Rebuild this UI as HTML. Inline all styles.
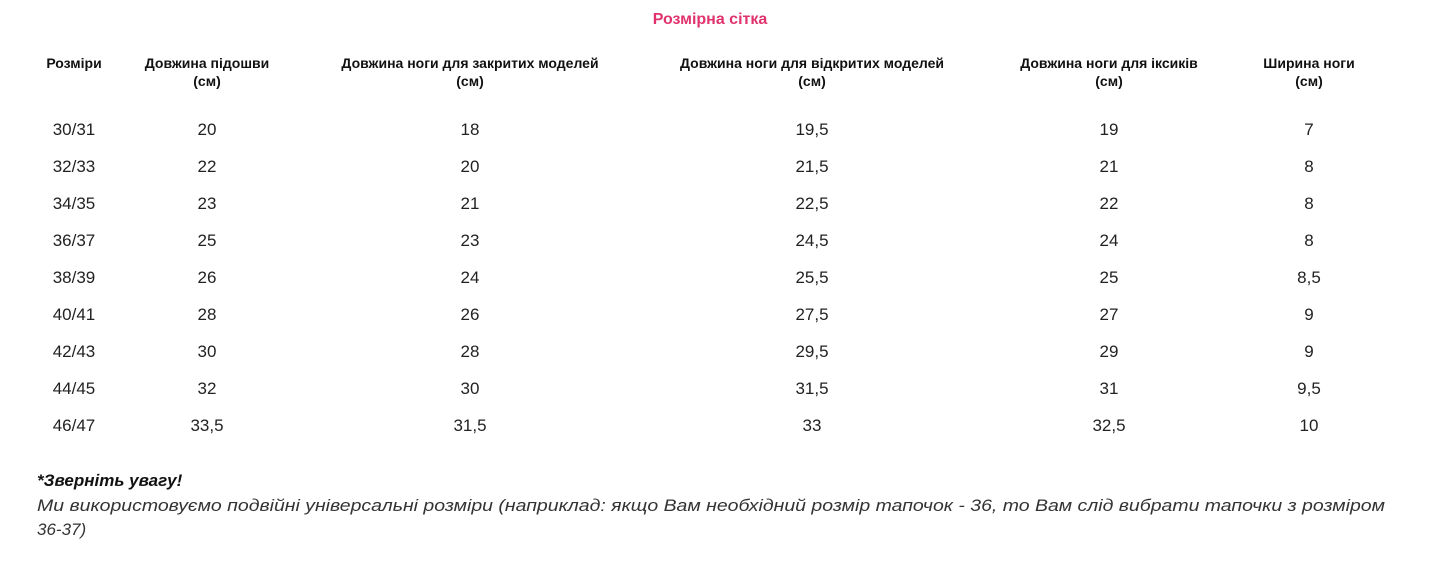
<!DOCTYPE html>
<html><head><meta charset="utf-8"><style>
html,body{margin:0;padding:0;background:#fff;width:1441px;height:563px;overflow:hidden}
svg text{font-family:"Liberation Sans",sans-serif}
</style></head><body>
<svg width="1441" height="563" viewBox="0 0 1441 563">
<text x="710" y="24" text-anchor="middle" font-size="16" font-weight="bold" fill="#e0336d">Розмірна сітка</text>
<g id="hdr" font-size="14" font-weight="bold" fill="#111" text-anchor="middle"></g>
<g id="body" font-size="17" fill="#222" text-anchor="middle"></g>
<text x="37" y="486" font-size="17" font-weight="bold" font-style="italic" fill="#111">*Зверніть увагу!</text>
<text x="37" y="511" font-size="17" font-style="italic" fill="#333" textLength="1348" lengthAdjust="spacingAndGlyphs">Ми використовуємо подвійні універсальні розміри (наприклад: якщо Вам необхідний розмір тапочок - 36, то Вам слід вибрати тапочки з розміром</text>
<text x="37" y="535" font-size="17" font-style="italic" fill="#333">36-37)</text>
</svg>
<script>
const headers1=["Розміри","Довжина підошви","Довжина ноги для закритих моделей","Довжина ноги для відкритих моделей","Довжина ноги для іксиків","Ширина ноги"];
const headers2=["","(см)","(см)","(см)","(см)","(см)"];
const sizes=["30/31","32/33","34/35","36/37","38/39","40/41","42/43","44/45","46/47"];
const sole=["20","22","23","25","26","28","30","32","33,5"];
const closedM=["18","20","21","23","24","26","28","30","31,5"];
const openM=["19,5","21,5","22,5","24,5","25,5","27,5","29,5","31,5","33"];
const ixM=["19","21","22","24","25","27","29","31","32,5"];
const width=["7","8","8","8","8,5","9","9","9,5","10"];
const cols=[sizes,sole,closedM,openM,ixM,width];
const colX=[74,207,470,812,1109,1309];
const NS="http://www.w3.org/2000/svg";
const hdr=document.getElementById('hdr'),body=document.getElementById('body');
headers1.forEach((h,i)=>{
 [h,headers2[i]].forEach((t,k)=>{ if(!t)return;
  const e=document.createElementNS(NS,'text');
  e.setAttribute('x',colX[i]);e.setAttribute('y',68+k*18);e.textContent=t;
  
  
  hdr.appendChild(e);});
});
cols.forEach((c,i)=>c.forEach((v,r)=>{
 const e=document.createElementNS(NS,'text');
 e.setAttribute('x',colX[i]);e.setAttribute('y',135+r*37);e.textContent=v;
 
 
 body.appendChild(e);
}));
</script>
</body></html>
